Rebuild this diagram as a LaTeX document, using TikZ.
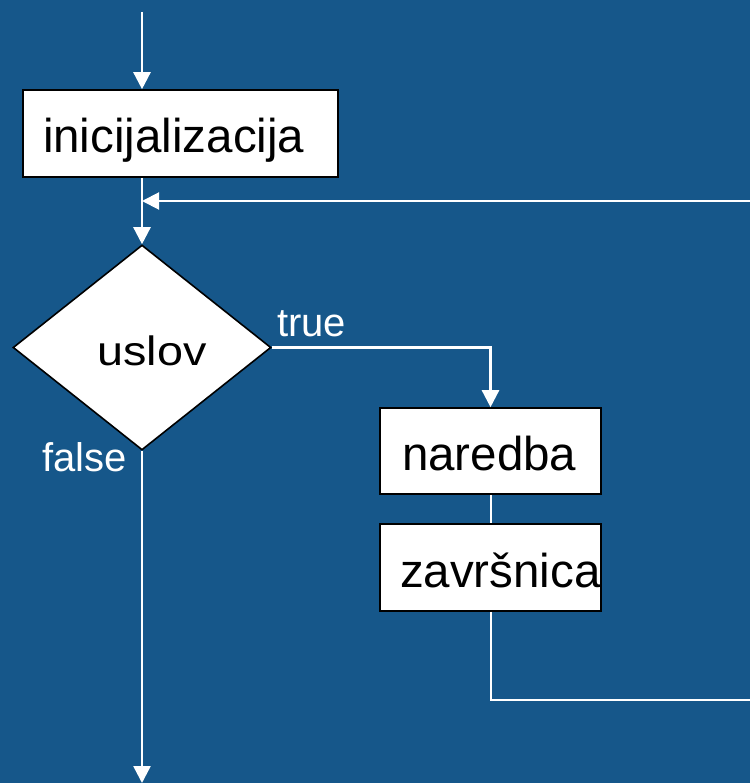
\documentclass[tikz,border=0pt]{standalone}
\usepackage{fontspec}
\setmainfont{Liberation Sans}
\usepackage{graphicx}
\usetikzlibrary{arrows.meta,shapes.geometric}
\definecolor{slideblue}{HTML}{16578A}
\begin{document}
\begin{tikzpicture}[x=1pt,y=-1pt,
  stepbox/.style={draw=black, fill=white, line width=1.6pt, inner xsep=20pt,
    inner ysep=0pt, text height=39pt, text depth=0pt,
    font=\fontsize{47.5}{57}\selectfont},
  decision/.style={diamond, draw=black, fill=white, line width=1.6pt,
    inner sep=0pt, minimum width=258pt, minimum height=205pt,
    text height=35pt, text depth=0pt, font=\fontsize{41}{48}\selectfont},
  edgelabel/.style={text=white, inner sep=0pt, font=\fontsize{40}{48}\selectfont},
  flow/.style={draw=white, line width=2.5pt, -{Triangle[width=17pt,length=17pt]}},
  link/.style={draw=white, line width=2pt}]
  % background
  \fill[slideblue] (0,0) rectangle (750,783);
  \useasboundingbox (0,0) rectangle (750,783);
  \clip (0,0) rectangle (750,783);

  % blocks
  \node[stepbox, minimum height=87pt] (init) at (180.5,133.5)
    {\makebox[275pt][l]{inicijalizacija}};
  \node[decision] (cond) at (142,347.5)
    {\hspace*{20pt}\scalebox{1.14}[1]{uslov}};
  \node[stepbox, minimum height=86pt] (nar) at (490.5,451)
    {\makebox[181pt][l]{\hspace{2pt}naredba}};
  \node[stepbox, minimum height=87pt] (zav) at (490.5,567.5)
    {\makebox[181pt][l]{završnica}};

  % branch labels
  \node[edgelabel, anchor=base west] (tlab) at (277,336) {true};
  \node[edgelabel, anchor=base west] (flab) at (42,471) {false};

  % connector end points
  \coordinate (start) at (142,12);
  \coordinate (merge) at (142,201);
  \coordinate (looptop) at (775,201);
  \coordinate (loopbot) at (775,700);
  \coordinate (exit) at (142,783);

  % connectors
  \draw[flow] (start) -- (start |- init.north);
  \draw[flow] (start |- init.south) -- (cond.north);
  \draw[flow] (cond.east) -- (cond.east -| nar.north) -- (nar.north);
  \draw[link] (nar.south) -- (zav.north);
  \draw[flow, line width=2pt] (zav.south) -- (zav.south |- loopbot) -- (loopbot)
    -- (looptop) -- (merge);
  \draw[flow] (cond.south) -- (exit);
\end{tikzpicture}
\end{document}
